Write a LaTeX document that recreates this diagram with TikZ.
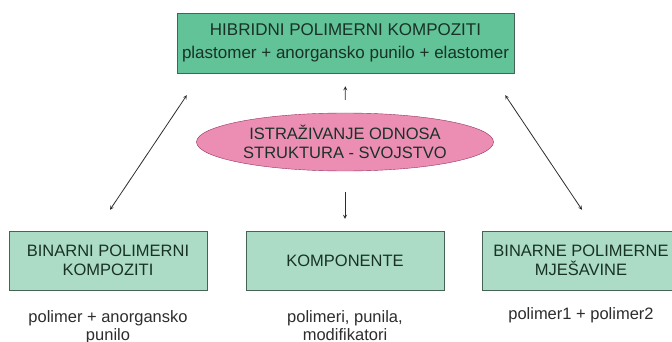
\documentclass[tikz,border=0pt]{standalone}
\usepackage{fontspec}
\setmainfont{Liberation Sans}
\usepackage{tikz}
\usetikzlibrary{shapes.geometric}

\definecolor{hybgreen}{RGB}{98,194,152}
\definecolor{boxgreen}{RGB}{172,220,198}
\definecolor{rimgreen}{RGB}{70,100,85}
\definecolor{pinkfill}{RGB}{236,142,180}
\definecolor{pinkrim}{RGB}{150,50,95}
\definecolor{inkgreen}{RGB}{25,50,38}
\definecolor{inkgray}{RGB}{45,45,45}

\begin{document}
\begin{tikzpicture}[x=1pt, y=-1pt]
    \tikzstyle{topbox} = [rectangle, draw=rimgreen, fill=hybgreen, inner sep=0pt, minimum width=337pt, minimum height=60pt, align=center, text=inkgreen, font=\fontsize{17}{23}\selectfont]
    \tikzstyle{subbox} = [rectangle, draw=rimgreen, fill=boxgreen, inner sep=0pt, minimum width=198pt, minimum height=59pt, align=center, text=inkgreen, font=\fontsize{16.5}{19}\selectfont]
    \tikzstyle{study} = [ellipse, draw=pinkrim, fill=pinkfill, inner sep=0pt, minimum width=297pt, minimum height=58pt, align=center, text=inkgreen, font=\fontsize{16.5}{19}\selectfont]
    \tikzstyle{note} = [align=center, text=inkgray, inner sep=2pt, font=\fontsize{16.5}{18}\selectfont]
    \tikzstyle{link} = [draw=inkgray, line width=0.8pt]

    \useasboundingbox (0,0) rectangle (672,342);

    % Main box and the central ellipse
    \node[topbox] (hybrid) at (345.5,43) {HIBRIDNI POLIMERNI KOMPOZITI\\plastomer + anorgansko punilo + elastomer};
    \node[study] (research) at (345,142) {ISTRAŽIVANJE ODNOSA\\STRUKTURA - SVOJSTVO};

    % Lower row of boxes
    \node[subbox] (binary) at (108,260.5) {BINARNI POLIMERNI\\KOMPOZITI};
    \node[subbox] (parts) at (345,260.5) {KOMPONENTE};
    \node[subbox] (blends) at (581,260.5) {BINARNE POLIMERNE\\MJEŠAVINE};

    % Notes below the boxes
    \node[note, anchor=north] (binarynote) at (108,308) {polimer + anorgansko\\punilo};
    \node[note, anchor=north] (partsnote) at (345,308) {polimeri, punila,\\modifikatori};
    \node[note, anchor=north] (blendsnote) at (581,305) {polimer1 + polimer2};

    % Free ends of the slanted arrows
    \coordinate (lefttop) at ([xshift=10pt, yshift=-22pt]hybrid.south west);
    \coordinate (leftbot) at ([xshift=2pt, yshift=21pt]binary.north);
    \coordinate (righttop) at ([xshift=-9pt, yshift=-22pt]hybrid.south east);
    \coordinate (rightbot) at ([xshift=1pt, yshift=21pt]blends.north);

    % Arrows
    \draw[link, stealth-stealth] (lefttop) -- (leftbot);
    \draw[link, stealth-stealth] (righttop) -- (rightbot);
    \draw[link, -stealth, shorten <=13pt, shorten >=13pt] (research.north) -- (hybrid.south);
    \draw[link, -stealth, shorten <=21pt, shorten >=12pt] (research.south) -- (parts.north);
\end{tikzpicture}
\end{document}
